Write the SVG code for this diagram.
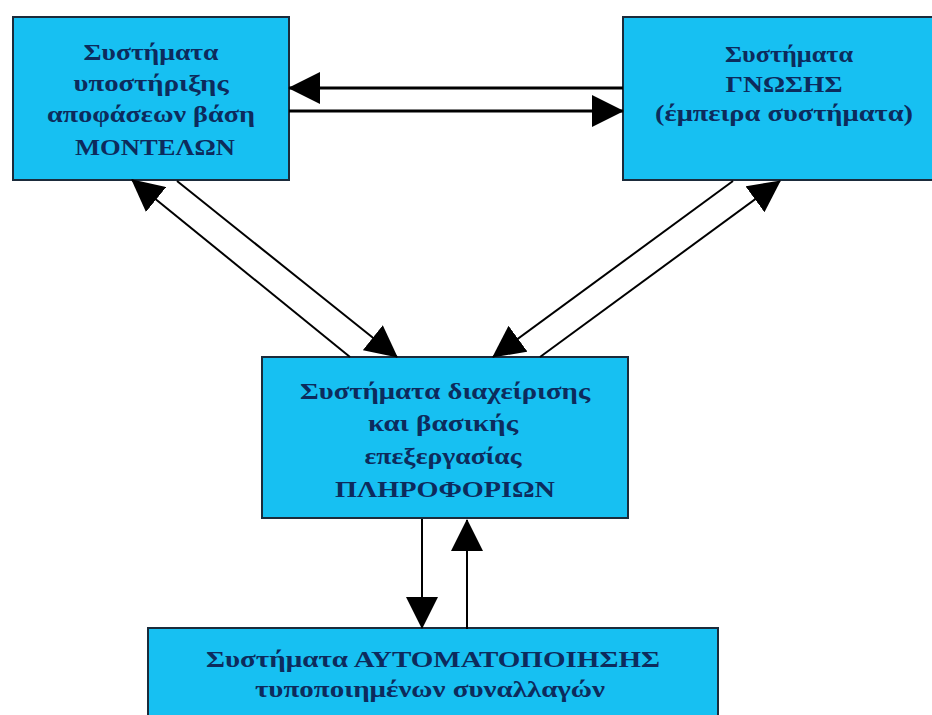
<svg xmlns="http://www.w3.org/2000/svg" width="932" height="715" viewBox="0 0 932 715">
<style>
.box{fill:#17c0f2;stroke:#1b2b3b;stroke-width:2}
.t{font-family:"Liberation Serif","DejaVu Serif",serif;font-weight:bold;font-size:24px;fill:#0d2b5c;text-anchor:middle}
.c{stroke:#000;fill:none}
.h{stroke-width:3}
.d{stroke-width:2}
</style>
<defs>
<marker id="ah" markerUnits="userSpaceOnUse" markerWidth="32" markerHeight="32" refX="31" refY="16" orient="auto" viewBox="0 0 32 32">
<path d="M0,0 L32,16 L0,32 z" fill="#000"/>
</marker>
</defs>
<rect width="932" height="715" fill="#fff"/>
<g id="node-models">
<rect class="box" x="13" y="17" width="276" height="163"/>
<text class="t" x="151" y="60" textLength="135" lengthAdjust="spacingAndGlyphs">Συστήματα</text>
<text class="t" x="151" y="91" textLength="155" lengthAdjust="spacingAndGlyphs">υποστήριξης</text>
<text class="t" x="151" y="122" textLength="208" lengthAdjust="spacingAndGlyphs">αποφάσεων βάση</text>
<text class="t" x="155" y="155" textLength="160" lengthAdjust="spacingAndGlyphs">ΜΟΝΤΕΛΩΝ</text>
</g>
<g id="node-knowledge">
<rect class="box" x="623" y="17" width="330" height="163"/>
<text class="t" x="789" y="62" textLength="128" lengthAdjust="spacingAndGlyphs">Συστήματα</text>
<text class="t" x="784" y="92" textLength="117" lengthAdjust="spacingAndGlyphs">ΓΝΩΣΗΣ</text>
<text class="t" x="784" y="121" textLength="258" lengthAdjust="spacingAndGlyphs">(έμπειρα συστήματα)</text>
</g>
<g id="node-information">
<rect class="box" x="262" y="357" width="366" height="161"/>
<text class="t" x="445" y="399" textLength="290" lengthAdjust="spacingAndGlyphs">Συστήματα διαχείρισης</text>
<text class="t" x="443" y="431" textLength="150" lengthAdjust="spacingAndGlyphs">και βασικής</text>
<text class="t" x="443" y="464" textLength="157" lengthAdjust="spacingAndGlyphs">επεξεργασίας</text>
<text class="t" x="445" y="497" textLength="220" lengthAdjust="spacingAndGlyphs">ΠΛΗΡΟΦΟΡΙΩΝ</text>
</g>
<g id="node-automation">
<rect class="box" x="148" y="628" width="570" height="100"/>
<text class="t" x="433" y="667" textLength="454" lengthAdjust="spacingAndGlyphs">Συστήματα ΑΥΤΟΜΑΤΟΠΟΙΗΣΗΣ</text>
<text class="t" x="430" y="697" textLength="350" lengthAdjust="spacingAndGlyphs">τυποποιημένων συναλλαγών</text>
</g>
<g id="connectors">
<line class="c h" x1="623" y1="88" x2="289" y2="88" marker-end="url(#ah)"/>
<line class="c h" x1="289" y1="111" x2="623" y2="111" marker-end="url(#ah)"/>
<line class="c d" x1="350" y1="357" x2="132" y2="180" marker-end="url(#ah)"/>
<line class="c d" x1="177" y1="181" x2="397" y2="357" marker-end="url(#ah)"/>
<line class="c d" x1="733" y1="181" x2="493" y2="357" marker-end="url(#ah)"/>
<line class="c d" x1="540" y1="357" x2="780" y2="181" marker-end="url(#ah)"/>
<line class="c d" x1="422" y1="519" x2="422" y2="628" marker-end="url(#ah)"/>
<line class="c d" x1="467" y1="629" x2="467" y2="520" marker-end="url(#ah)"/>
</g>
</svg>
